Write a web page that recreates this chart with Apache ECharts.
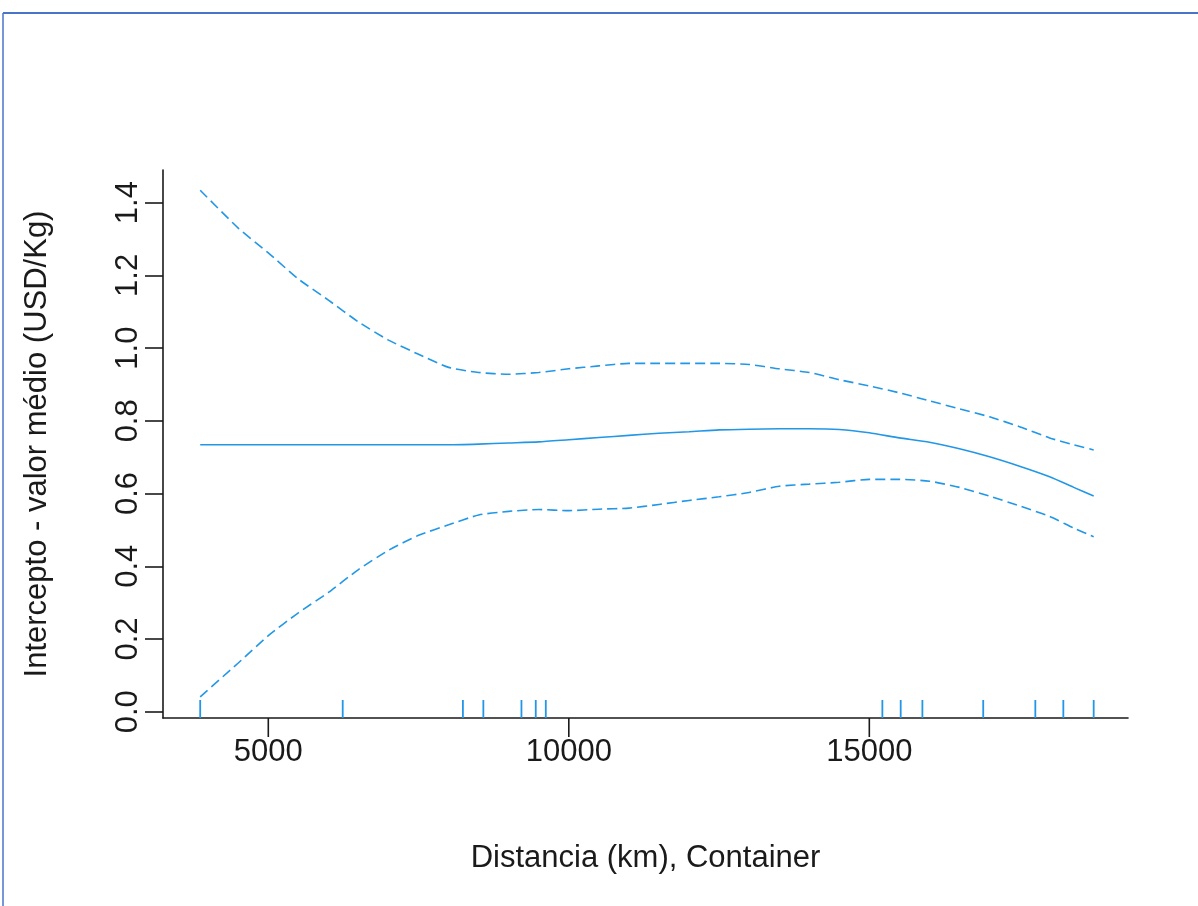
<!DOCTYPE html>
<html>
<head>
<meta charset="utf-8">
<title>Distancia (km), Container</title>
<script src="https://cdn.jsdelivr.net/npm/echarts@6/dist/echarts.min.js"></script>
<style>
  html, body { margin: 0; padding: 0; background: #fff; }
  #chart { width: 1198px; height: 906px; }
</style>
</head>
<body>
<div id="chart"></div>
<script>
const distKm = [3867, 4500, 5000, 5500, 6000, 6500, 7000, 7500, 8000, 8500, 9000, 9500, 10000, 10500, 11000,
  11500, 12000, 12500, 13000, 13500, 14000, 14500, 15000, 15500, 16000, 16500, 17000, 17500, 18000, 18400, 18733]

const fitValues = [0.734, 0.734, 0.734, 0.734, 0.734, 0.734, 0.734, 0.734, 0.734, 0.736, 0.739, 0.742, 0.748, 0.754, 0.760,
  0.766, 0.770, 0.775, 0.777, 0.778, 0.778, 0.776, 0.767, 0.753, 0.741, 0.723, 0.701, 0.675, 0.646, 0.617, 0.593]

const upperValues = [1.434, 1.330, 1.262, 1.190, 1.132, 1.072, 1.022, 0.983, 0.947, 0.933, 0.928, 0.933, 0.943, 0.951, 0.958,
  0.958, 0.958, 0.958, 0.955, 0.943, 0.933, 0.913, 0.896, 0.877, 0.855, 0.833, 0.811, 0.784, 0.753, 0.734, 0.720]

const lowerValues = [0.041, 0.134, 0.209, 0.272, 0.328, 0.391, 0.444, 0.485, 0.514, 0.541, 0.551, 0.556, 0.553, 0.557, 0.560,
  0.570, 0.581, 0.591, 0.603, 0.620, 0.626, 0.631, 0.639, 0.639, 0.634, 0.617, 0.593, 0.566, 0.537, 0.505, 0.481]

// observed distances (rug)
const rugKm = [3867, 6238, 8238, 8578, 9212, 9450, 9617, 15217, 15522, 15883, 16895, 17762, 18228, 18733]

const xTicks = [5000, 10000, 15000]
const yTicks = [0, 0.2, 0.4, 0.6, 0.8, 1.0, 1.2, 1.4]

const X_MIN = 3248
const X_MAX = 19304
const Y_MIN = -0.0173
const Y_MAX = 1.4898

const blue = '#2297E6'
const ink = '#1a1a1a'
const font = '"Liberation Sans", Arial, sans-serif'

const pairs = (vals) => distKm.map((d, i) => [d, vals[i]])

const lineSeries = (name, vals, dashed) => ({
  name,
  type: 'line',
  data: pairs(vals),
  showSymbol: false,
  smooth: 0.2,
  lineStyle: { color: blue, width: 1.6, type: dashed ? [10, 5] : 'solid' },
  z: 3
})

// short vertical marks sitting on the x axis line (len > 0 goes up, < 0 goes down)
const axisMarks = (name, values, len, color, width) => ({
  name,
  type: 'custom',
  data: values.map((d) => [d, Y_MIN]),
  clip: false,
  silent: true,
  renderItem: (params, api) => {
    const p = api.coord([api.value(0), api.value(1)])
    return {
      type: 'line',
      shape: { x1: p[0], y1: p[1], x2: p[0], y2: p[1] - len },
      style: { stroke: color, lineWidth: width }
    }
  },
  z: 4
})

const chart = echarts.init(document.getElementById('chart'))

chart.setOption({
  animation: false,
  backgroundColor: '#fff',
  grid: { left: 163, right: 70, top: 170, bottom: 188 },
  xAxis: {
    type: 'value',
    min: X_MIN,
    max: X_MAX,
    name: 'Distancia (km), Container',
    nameLocation: 'middle',
    nameGap: 125,
    nameTextStyle: { fontSize: 31, color: ink, fontFamily: font },
    axisLine: { show: true, onZero: false, lineStyle: { color: ink, width: 1.6 } },
    axisTick: { show: false },
    axisLabel: {
      customValues: xTicks,
      fontSize: 31,
      color: ink,
      fontFamily: font,
      margin: 19,
      formatter: (v) => String(v)
    },
    splitLine: { show: false }
  },
  yAxis: {
    type: 'value',
    min: Y_MIN,
    max: Y_MAX,
    name: 'Intercepto - valor médio (USD/Kg)',
    nameLocation: 'middle',
    nameGap: 110,
    nameTextStyle: { fontSize: 31, color: ink, fontFamily: font },
    axisLine: { show: true, onZero: false, lineStyle: { color: ink, width: 1.6 } },
    axisTick: { show: true, customValues: yTicks, length: 18, lineStyle: { color: ink, width: 1.6 } },
    axisLabel: {
      customValues: yTicks,
      rotate: 90,
      fontSize: 31,
      color: ink,
      fontFamily: font,
      margin: 19,
      formatter: (v) => v.toFixed(1)
    },
    splitLine: { show: false }
  },
  series: [
    lineSeries('fit', fitValues, false),
    lineSeries('upper', upperValues, true),
    lineSeries('lower', lowerValues, true),
    axisMarks('rug', rugKm, 18, blue, 1.8),
    axisMarks('xticks', xTicks, -19, ink, 1.6)
  ],
  graphic: [
    { type: 'line', shape: { x1: 3, y1: 13, x2: 1198, y2: 13 }, style: { stroke: '#4a74c9', lineWidth: 2 } },
    { type: 'line', shape: { x1: 3, y1: 13, x2: 3, y2: 906 }, style: { stroke: '#4a74c9', lineWidth: 1.5 } }
  ]
})
</script>
</body>
</html>
